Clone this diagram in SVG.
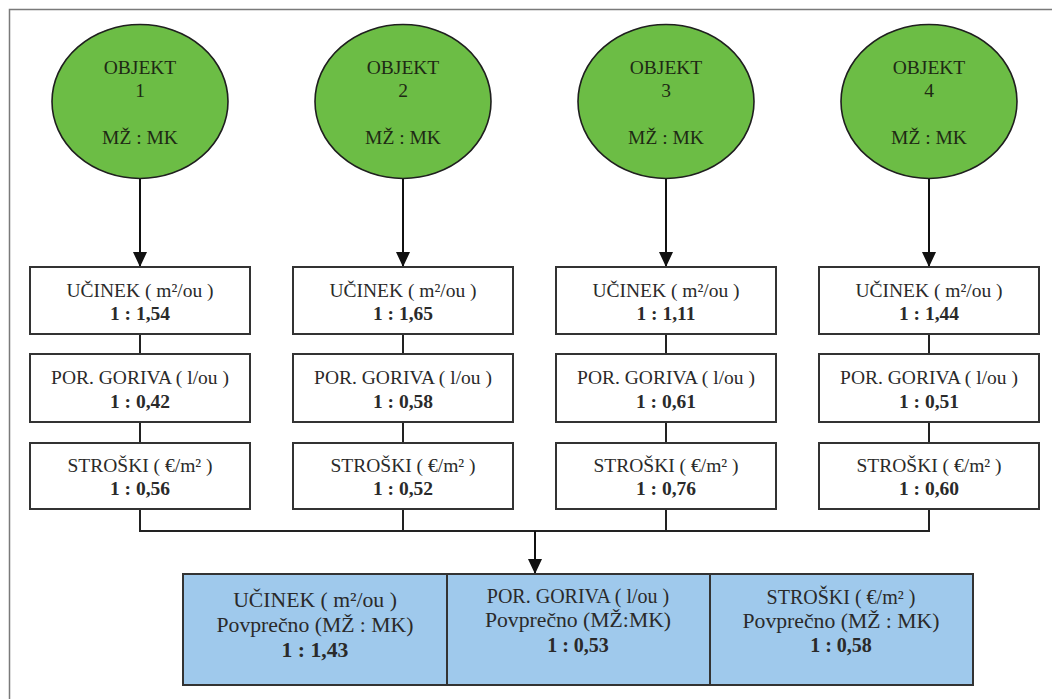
<svg xmlns="http://www.w3.org/2000/svg" width="1052" height="699" viewBox="0 0 1052 699">
<style>
text{font-family:"Liberation Serif","DejaVu Serif",serif;text-anchor:middle;fill:#2a2a2a}
.c{font-size:19.5px;fill:#1e2a14}
.t{font-size:19.5px}
.b{font-weight:bold}
.bt{font-size:21.7px}
.bs{font-size:20px}
.obj{fill:#6cbd45;stroke:#1f1f1f;stroke-width:1.6}
.box{fill:#fff;stroke:#333;stroke-width:2}
.avg{fill:#9fc9ec;stroke:#333;stroke-width:2}
.ln{fill:none;stroke:#222;stroke-width:2}
.arr{fill:none;stroke:#111;stroke-width:2;marker-end:url(#ah)}
</style>
<defs>
<marker id="ah" viewBox="0 0 15 14" refX="15" refY="7" markerWidth="15" markerHeight="14" markerUnits="userSpaceOnUse" orient="auto">
<path d="M0,0 L15,7 L0,14 Z" fill="#111"/>
</marker>
</defs>
<rect x="9.5" y="9.5" width="1100" height="800" fill="none" stroke="#7a7a7a" stroke-width="1.5"/>
<g id="connectors">
<path class="arr" d="M140,178 V267"/>
<path class="arr" d="M403,178 V267"/>
<path class="arr" d="M666,178 V267"/>
<path class="arr" d="M929,178 V267"/>
<path class="ln" d="M140,334 V354 M140,422 V443 M403,334 V354 M403,422 V443 M666,334 V354 M666,422 V443 M929,334 V354 M929,422 V443"/>
<path class="ln" d="M140,509 V531 H929 V509 M403,509 V531 M666,509 V531"/>
<path class="arr" d="M535,531 V574"/>
</g>
<g id="objekt1"><ellipse class="obj" cx="140" cy="101.5" rx="88" ry="77"/><text class="c" x="140" y="74">OBJEKT</text><text class="c" x="140" y="97">1</text><text class="c" x="140" y="144">MŽ : MK</text></g>
<g id="objekt2"><ellipse class="obj" cx="403" cy="101.5" rx="88" ry="77"/><text class="c" x="403" y="74">OBJEKT</text><text class="c" x="403" y="97">2</text><text class="c" x="403" y="144">MŽ : MK</text></g>
<g id="objekt3"><ellipse class="obj" cx="666" cy="101.5" rx="88" ry="77"/><text class="c" x="666" y="74">OBJEKT</text><text class="c" x="666" y="97">3</text><text class="c" x="666" y="144">MŽ : MK</text></g>
<g id="objekt4"><ellipse class="obj" cx="929" cy="101.5" rx="88" ry="77"/><text class="c" x="929" y="74">OBJEKT</text><text class="c" x="929" y="97">4</text><text class="c" x="929" y="144">MŽ : MK</text></g>

<g id="ucinek1"><rect class="box" x="30" y="267" width="220" height="67"/><text class="t" x="140" y="297">UČINEK ( m²/ou )</text><text class="t b" x="140" y="320">1 : 1,54</text></g>
<g id="gorivo1"><rect class="box" x="30" y="354" width="220" height="68"/><text class="t" x="140" y="384">POR. GORIVA ( l/ou )</text><text class="t b" x="140" y="408">1 : 0,42</text></g>
<g id="stroski1"><rect class="box" x="30" y="443" width="220" height="66"/><text class="t" x="140" y="472">STROŠKI ( €/m² )</text><text class="t b" x="140" y="495">1 : 0,56</text></g>

<g id="ucinek2"><rect class="box" x="293" y="267" width="220" height="67"/><text class="t" x="403" y="297">UČINEK ( m²/ou )</text><text class="t b" x="403" y="320">1 : 1,65</text></g>
<g id="gorivo2"><rect class="box" x="293" y="354" width="220" height="68"/><text class="t" x="403" y="384">POR. GORIVA ( l/ou )</text><text class="t b" x="403" y="408">1 : 0,58</text></g>
<g id="stroski2"><rect class="box" x="293" y="443" width="220" height="66"/><text class="t" x="403" y="472">STROŠKI ( €/m² )</text><text class="t b" x="403" y="495">1 : 0,52</text></g>

<g id="ucinek3"><rect class="box" x="556" y="267" width="220" height="67"/><text class="t" x="666" y="297">UČINEK ( m²/ou )</text><text class="t b" x="666" y="320">1 : 1,11</text></g>
<g id="gorivo3"><rect class="box" x="556" y="354" width="220" height="68"/><text class="t" x="666" y="384">POR. GORIVA ( l/ou )</text><text class="t b" x="666" y="408">1 : 0,61</text></g>
<g id="stroski3"><rect class="box" x="556" y="443" width="220" height="66"/><text class="t" x="666" y="472">STROŠKI ( €/m² )</text><text class="t b" x="666" y="495">1 : 0,76</text></g>

<g id="ucinek4"><rect class="box" x="819" y="267" width="220" height="67"/><text class="t" x="929" y="297">UČINEK ( m²/ou )</text><text class="t b" x="929" y="320">1 : 1,44</text></g>
<g id="gorivo4"><rect class="box" x="819" y="354" width="220" height="68"/><text class="t" x="929" y="384">POR. GORIVA ( l/ou )</text><text class="t b" x="929" y="408">1 : 0,51</text></g>
<g id="stroski4"><rect class="box" x="819" y="443" width="220" height="66"/><text class="t" x="929" y="472">STROŠKI ( €/m² )</text><text class="t b" x="929" y="495">1 : 0,60</text></g>

<g id="povprecno-ucinek"><rect class="avg" x="183" y="574" width="264" height="111"/><text class="bt" x="315" y="607">UČINEK ( m²/ou )</text><text class="bt" x="315" y="632">Povprečno (MŽ : MK)</text><text class="bt b" x="315" y="657">1 : 1,43</text></g>
<g id="povprecno-gorivo"><rect class="avg" x="447" y="574" width="263" height="111"/><text class="bs" x="578" y="603">POR. GORIVA ( l/ou )</text><text class="bt" x="578" y="627">Povprečno (MŽ:MK)</text><text class="bs b" x="578" y="652">1 : 0,53</text></g>
<g id="povprecno-stroski"><rect class="avg" x="710" y="574" width="263" height="111"/><text class="bs" x="841" y="604">STROŠKI ( €/m² )</text><text class="bt" x="841" y="628">Povprečno (MŽ : MK)</text><text class="bs b" x="841" y="652">1 : 0,58</text></g>
</svg>
